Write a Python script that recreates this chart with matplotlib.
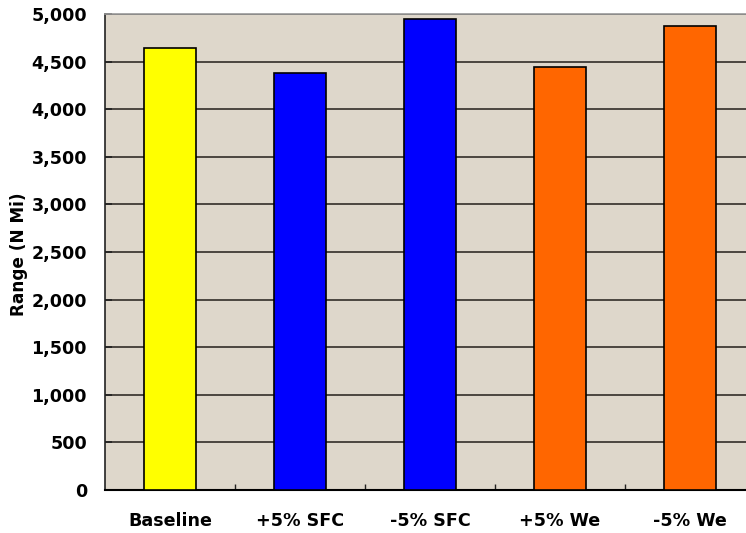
import matplotlib
matplotlib.use("Agg")
import matplotlib.pyplot as plt
from matplotlib.ticker import FuncFormatter, FixedLocator

categories = ["Baseline", "+5% SFC", "-5% SFC", "+5% We", "-5% We"]
range_nmi = [4640, 4377, 4944, 4440, 4877]
bar_colors = ["#FFFF00", "#0000FF", "#0000FF", "#FF6600", "#FF6600"]
y_ticks = list(range(0, 5001, 500))

plt.rcParams["font.family"] = ["DejaVu Sans"]
plt.rcParams["font.weight"] = "bold"

fig = plt.figure(figsize=(7.46, 5.33), dpi=100)
ax = fig.add_axes([105 / 746, 1 - 490 / 533, 650 / 746, 476 / 533])
ax.set_facecolor("#DED7CB")

x = list(range(len(categories)))
ax.bar(x, range_nmi, width=0.4, color=bar_colors, edgecolor="#000000",
       linewidth=1.2, zorder=3)

ax.set_xlim(-0.5, len(categories) - 0.5)
ax.set_ylim(0, 5000)
ax.set_yticks(y_ticks)
ax.yaxis.set_major_formatter(FuncFormatter(lambda v, p: f"{int(v):,}"))
ax.yaxis.grid(True, color="#4A4640", linewidth=1.4, zorder=1)
ax.set_axisbelow(True)

ax.set_xticks(x)
ax.set_xticklabels(categories, fontsize=12.6, fontweight="bold")
ax.xaxis.set_minor_locator(FixedLocator([i + 0.5 for i in range(len(categories) - 1)]))
ax.tick_params(axis="x", which="major", length=0, pad=16)
ax.tick_params(axis="x", which="minor", direction="in", length=4.5, width=1, color="#222222")
ax.tick_params(axis="y", direction="in", length=5, width=1.2, pad=13,
               labelsize=12.6, color="#222222")
for lbl in ax.get_yticklabels():
    lbl.set_fontweight("bold")

ax.set_ylabel("Range (N Mi)", fontsize=12.2, fontweight="bold")
ax.yaxis.set_label_coords(-0.118, 0.495)

ax.spines["top"].set_color("#9A9A9A")
ax.spines["top"].set_linewidth(1.2)
ax.spines["right"].set_visible(False)
ax.spines["left"].set_color("#222222")
ax.spines["left"].set_linewidth(1.2)
ax.spines["bottom"].set_color("#000000")
ax.spines["bottom"].set_linewidth(1.5)

fig.savefig("out.png", dpi=100)
